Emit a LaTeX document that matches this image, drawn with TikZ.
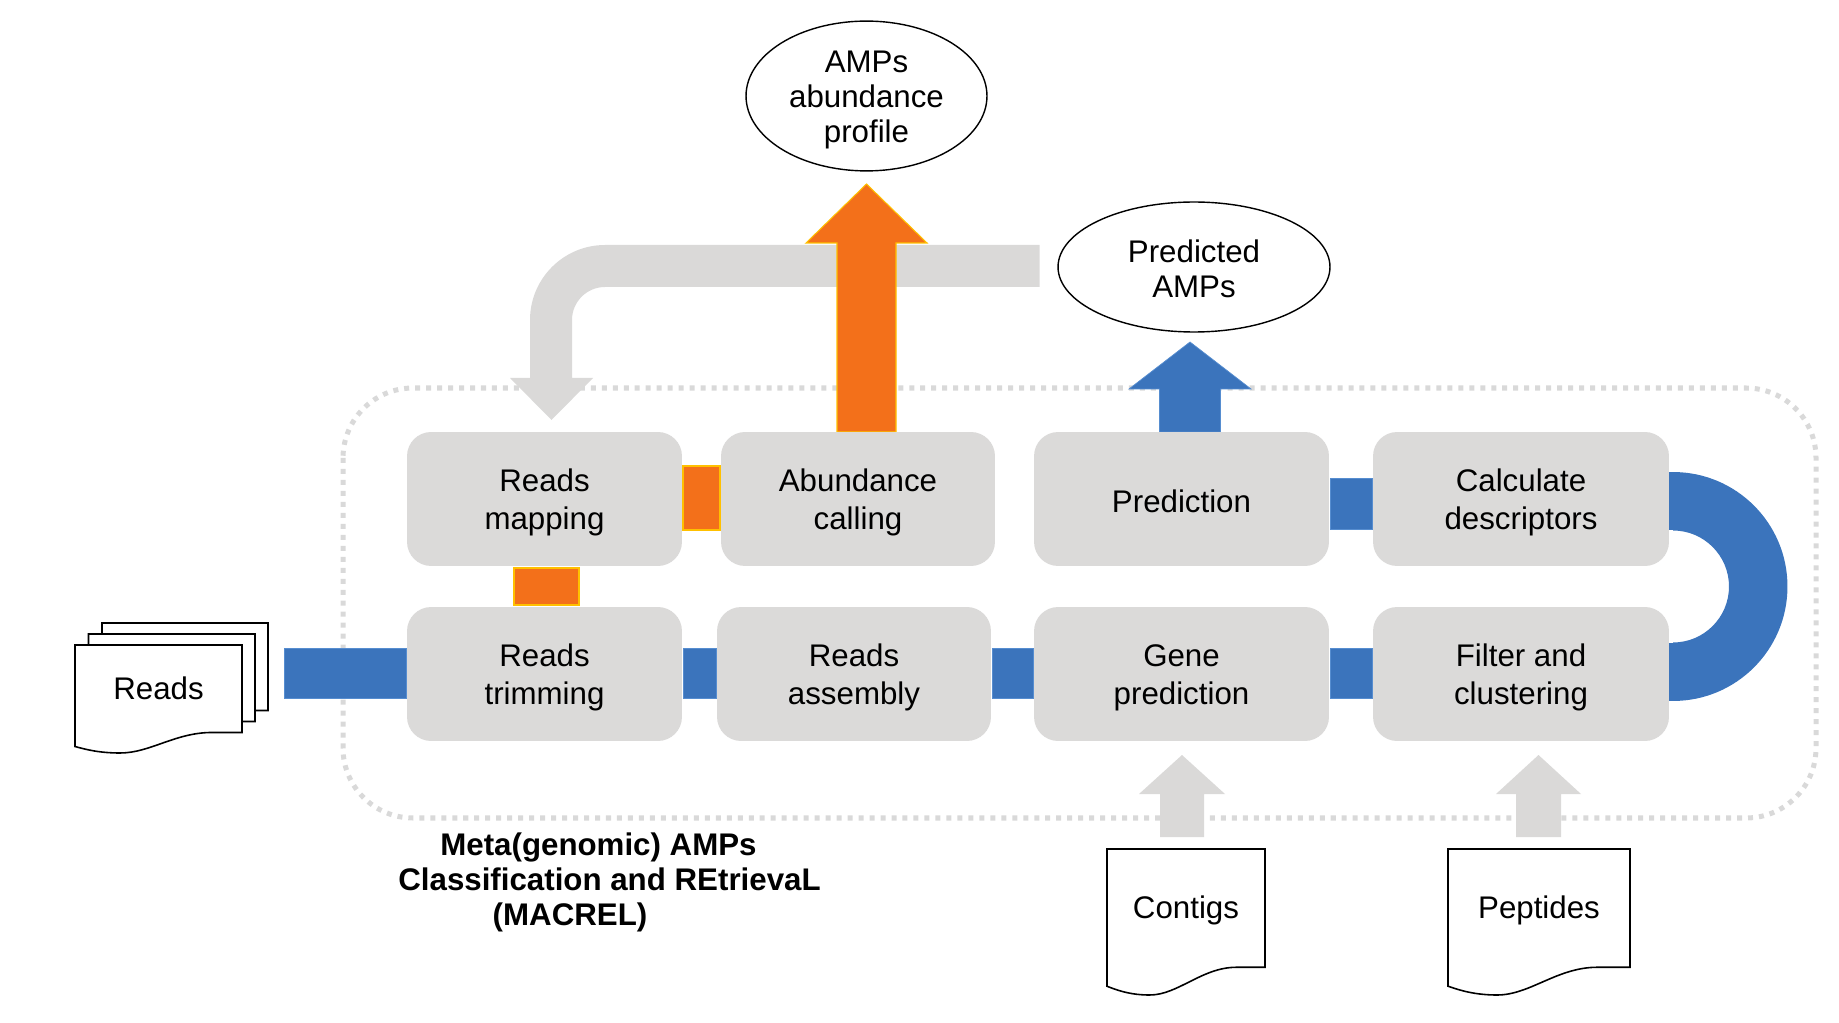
\documentclass[tikz,border=0pt]{standalone}
\usepackage{fontspec}
\setmainfont{Liberation Sans}
\usetikzlibrary{shapes.geometric}
\definecolor{boxgray}{RGB}{219,218,217}
\definecolor{arrgray}{RGB}{218,217,216}
\definecolor{bluec}{RGB}{59,116,188}
\definecolor{blueedge}{RGB}{86,141,208}
\definecolor{orangec}{RGB}{243,112,26}
\definecolor{orangeedge}{RGB}{255,192,0}
\definecolor{dashgray}{RGB}{217,217,217}
\newcommand\lnstrut{\rule[-2pt]{0pt}{18.8pt}}
\newcommand\docshape[4]{%
  \filldraw[docline] (#1,#2) -- ({#1+#3},#2) -- ({#1+#3},{#2+0.81*#4}) -- ({#1+0.82*#3},{#2+0.81*#4})
    .. controls ({#1+0.6*#3},{#2+0.81*#4}) and ({#1+0.45*#3},{#2+#4}) .. ({#1+0.27*#3},{#2+#4})
    .. controls ({#1+0.15*#3},{#2+#4}) and ({#1+0.07*#3},{#2+0.97*#4}) .. (#1,{#2+0.94*#4}) -- cycle;}
\begin{document}
\begin{tikzpicture}[x=0.02cm,y=-0.02cm,
  stepbox/.style={rectangle, rounded corners=13.7pt, fill=boxgray, minimum width=#1, minimum height=2.68cm,
     inner sep=0pt, align=center, font=\fontsize{17.8pt}{21.6pt}\selectfont},
  ell/.style={ellipse, draw=black, line width=0.8pt, fill=white, inner sep=0pt, align=center,
     font=\fontsize{17.8pt}{19.9pt}\selectfont},
  lbl/.style={inner sep=0pt, anchor=base, font=\fontsize{17.8pt}{21.6pt}\selectfont},
  boldlbl/.style={inner sep=0pt, anchor=base, font=\fontsize{17.8pt}{21.6pt}\selectfont\bfseries},
  docline/.style={draw=black, fill=white, line width=0.9pt},
  dashborder/.style={draw=dashgray, line width=2.85pt, dash pattern=on 2.85pt off 3.4pt, rounded corners=1.4cm},
  bluebar/.style={fill=bluec, draw=blueedge, line width=0.4pt},
  orangebar/.style={fill=orangec, draw=orangeedge, line width=0.6pt},
  grayarrow/.style={fill=arrgray}
]
\useasboundingbox (0,0) rectangle (1839,1023);

% dashed frame
\draw[dashborder] (343,388) rectangle (1816,818);

% grey feedback arrow
\fill[grayarrow] (1039.5,245) -- (605,245) .. controls (563.6,245) and (530,278.6) .. (530,320)
  -- (530,378) -- (510,378) -- (551.5,420) -- (593,378) -- (572,378) -- (572,320)
  .. controls (572,301.8) and (586.8,287) .. (605,287) -- (1039.5,287) -- cycle;

% orange output arrow
\filldraw[orangebar] (837,432) -- (837,243) -- (806,243) -- (866.5,184) -- (927,243) -- (896,243) -- (896,432) -- cycle;

% blue output arrow
\filldraw[bluebar] (1159.5,432) -- (1159.5,389) -- (1129,389) -- (1190,342) -- (1251,389) -- (1220.5,389) -- (1220.5,432) -- cycle;

% grey input arrows
\fill[grayarrow] (1160,837) -- (1160,794) -- (1139,794) -- (1182,755) -- (1225,794) -- (1204,794) -- (1204,837) -- cycle;
\fill[grayarrow] (1516,837) -- (1516,794) -- (1496,794) -- (1538.5,755) -- (1581,794) -- (1561,794) -- (1561,837) -- cycle;

% ellipses
\node[ell, minimum width=4.82cm, minimum height=2.92cm] (prof) at (866.5,96)
  {\lnstrut AMPs\\\lnstrut abundance\\\lnstrut profile};
\node[ell, minimum width=5.44cm, minimum height=2.6cm] (pamp) at (1194,267)
  {\lnstrut Predicted\\\lnstrut AMPs};

% process boxes
\node[stepbox=5.5cm] (map) at (544.5,499) {\lnstrut Reads\\\lnstrut mapping};
\node[stepbox=5.48cm] (abund) at (858,499) {\lnstrut Abundance\\\lnstrut calling};
\node[stepbox=5.9cm] (pred) at (1181.5,499) {\lnstrut Prediction};
\node[stepbox=5.92cm] (calc) at (1521,499) {\lnstrut Calculate\\\lnstrut descriptors};
\node[stepbox=5.5cm] (trim) at (544.5,674) {\lnstrut Reads\\\lnstrut trimming};
\node[stepbox=5.48cm] (asm) at (854,674) {\lnstrut Reads\\\lnstrut assembly};
\node[stepbox=5.9cm] (gene) at (1181.5,674) {\lnstrut Gene\\\lnstrut prediction};
\node[stepbox=5.92cm] (filt) at (1521,674) {\lnstrut Filter and\\\lnstrut clustering};

% blue connectors
\filldraw[bluebar] (284,648) rectangle (406,698);
\filldraw[bluebar] (683,648) rectangle (716,698);
\filldraw[bluebar] (992,648) rectangle (1033,698);
\filldraw[bluebar] (1330,648) rectangle (1372,698);
\filldraw[bluebar] (1330,478) rectangle (1372,529);
\begin{scope}
  \clip (1673,440) rectangle (1800,740);
  \fill[bluec, even odd rule] (1673,586.5) circle[radius=2.29cm] (1673,586.5) circle[radius=1.12cm];
\end{scope}
\fill[bluec] (1669,472) rectangle (1673.5,530.5);
\fill[bluec] (1669,642.5) rectangle (1673.5,701);

% orange connectors
\filldraw[orangebar] (683,466) rectangle (720,530);
\filldraw[orangebar] (514,568) rectangle (579,605);

% documents
\docshape{102}{623}{166}{108}
\docshape{88.5}{634}{166.5}{108}
\docshape{75}{645}{167}{108}
\node[lbl] (reads) at (158.5,699) {Reads};
\docshape{1107}{849}{158}{146}
\node[lbl] (contigs) at (1186,918) {Contigs};
\docshape{1448}{849}{182}{146}
\node[lbl] (peptides) at (1539,918) {Peptides};

% title
\node[boldlbl] (t1) at (598.5,855) {Meta(genomic) AMPs};
\node[boldlbl] (t2) at (609.5,890) {Classification and REtrievaL};
\node[boldlbl] (t3) at (570,925) {(MACREL)};
\end{tikzpicture}
\end{document}
